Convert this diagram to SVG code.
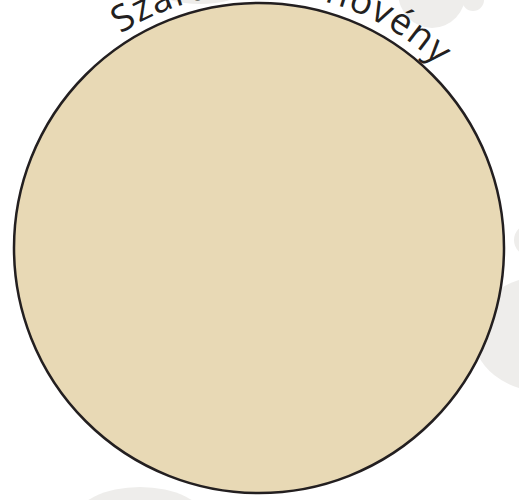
<svg xmlns="http://www.w3.org/2000/svg" xmlns:xlink="http://www.w3.org/1999/xlink" width="519" height="500" viewBox="0 0 519 500">
<style>
.blob{fill:#eeedeb}
.label{font-family:"Open Sans","Liberation Sans",sans-serif;font-size:37px;fill:#231f20}
</style>
<defs>
<path id="arc" d="M 4,248 A 255 255 0 0 1 514,248"/>
</defs>
<rect width="519" height="500" fill="#ffffff"/>
<g id="background">
<ellipse class="blob" cx="432" cy="-8" rx="34" ry="36"/>
<circle class="blob" cx="473" cy="0" r="11"/>
<ellipse class="blob" cx="200" cy="-8" rx="40" ry="12"/>
<ellipse class="blob" cx="545" cy="334" rx="72" ry="58"/>
<ellipse class="blob" cx="140" cy="520" rx="65" ry="33"/>
<circle class="blob" cx="530" cy="240" r="16"/>
</g>
<g id="plant">
<circle cx="259" cy="248" r="245" fill="#e8d9b5" stroke="#231f20" stroke-width="2.5"/>
<text class="label"><textPath xlink:href="#arc" startOffset="254" textLength="344" lengthAdjust="spacing">Szárazföldi növény</textPath></text>
</g>
</svg>
